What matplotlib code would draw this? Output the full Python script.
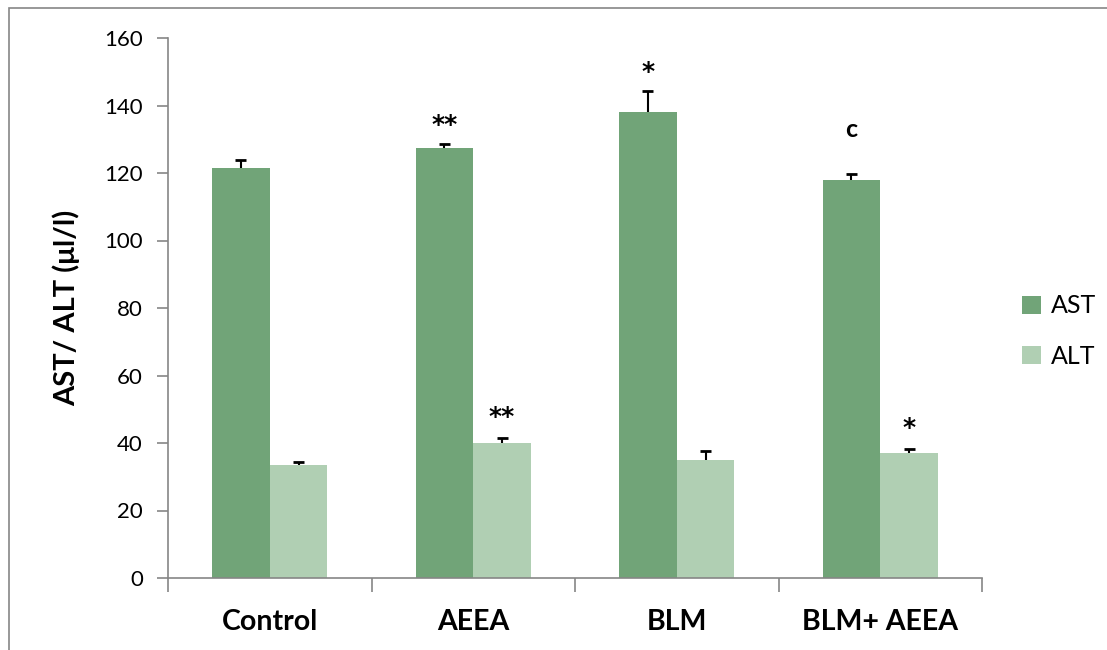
import matplotlib.pyplot as plt
import numpy as np
from matplotlib.patches import Rectangle

groups = ['Control', 'AEEA', 'BLM', 'BLM+ AEEA']
ast = [121.4, 127.3, 138.2, 117.8]
ast_err = [2.4, 1.3, 6.1, 1.8]
alt = [33.5, 39.9, 35.0, 36.9]
alt_err = [1.0, 1.7, 2.7, 1.3]
ast_marks = ['', '**', '*', 'c']
alt_marks = ['', '**', '', '*']

ast_color = '#71a478'
alt_color = '#b0cfb3'
grey = '#868686'

plt.rcParams['font.family'] = ['Lato', 'DejaVu Sans']

fig = plt.figure(figsize=(11.07, 6.5), dpi=100)
ax = fig.add_axes([168 / 1107, 1 - 578 / 650, (982 - 168) / 1107, 540 / 650])

# outer frame like the pasted excel chart
fig.patches.append(Rectangle((9 / 1107, -0.1), 1.2, 1 - 8 / 650 + 0.1, transform=fig.transFigure,
                             fill=False, edgecolor=grey, linewidth=1.2))

x = np.arange(len(groups))
w = 0.283
cap = 0.027


def upper_err(xs, ys, es):
    # excel style: only the plus side with a cap
    ax.vlines(xs, ys, ys + es, color='black', linewidth=1.5, zorder=3)
    ax.hlines(ys + es, xs - cap, xs + cap, color='black', linewidth=2, zorder=3)


ax.bar(x - w / 2, ast, w, color=ast_color, label='AST')
ax.bar(x + w / 2, alt, w, color=alt_color, label='ALT')
upper_err(x - w / 2, np.array(ast), np.array(ast_err))
upper_err(x + w / 2, np.array(alt), np.array(alt_err))

for i in range(len(groups)):
    m = ast_marks[i]
    if m == 'c':
        ax.text(x[i] - w / 2, ast[i] + ast_err[i] + 10.0, m, ha='center', va='bottom',
                fontsize=18, fontweight='bold')
    elif m:
        ax.text(x[i] - w / 2, ast[i] + ast_err[i] + 2.2, m, ha='center', va='bottom',
                fontsize=18, fontweight='bold', family='DejaVu Sans')
    if alt_marks[i]:
        ax.text(x[i] + w / 2, alt[i] + alt_err[i] + 2.6, alt_marks[i], ha='center', va='bottom',
                fontsize=18, fontweight='bold', family='DejaVu Sans')

ax.set_xlim(-0.5, len(groups) - 0.5)
ax.set_ylim(0, 160)
ax.set_yticks(np.arange(0, 161, 20))
ax.tick_params(axis='y', labelsize=16, length=8, width=1.2, color=grey, pad=10)
ax.set_xticks(x)
ax.set_xticklabels(groups, fontsize=20.5, fontweight='bold')
ax.tick_params(axis='x', length=0, pad=22)
ax.set_xticks(np.arange(-0.5, len(groups), 1), minor=True)
ax.tick_params(axis='x', which='minor', length=10, width=1.2, color=grey)

for s in ['top', 'right']:
    ax.spines[s].set_visible(False)
for s in ['left', 'bottom']:
    ax.spines[s].set_color(grey)
    ax.spines[s].set_linewidth(1.2)

ax.set_ylabel('AST/ ALT (μl/l)', fontsize=21, fontweight='bold', labelpad=17)

ax.legend(loc='center left', bbox_to_anchor=(1.022, 0.457), frameon=False, fontsize=18,
          handlelength=0.75, handleheight=0.75, handletextpad=0.4, labelspacing=1.1)

fig.savefig('out.png', dpi=100)
